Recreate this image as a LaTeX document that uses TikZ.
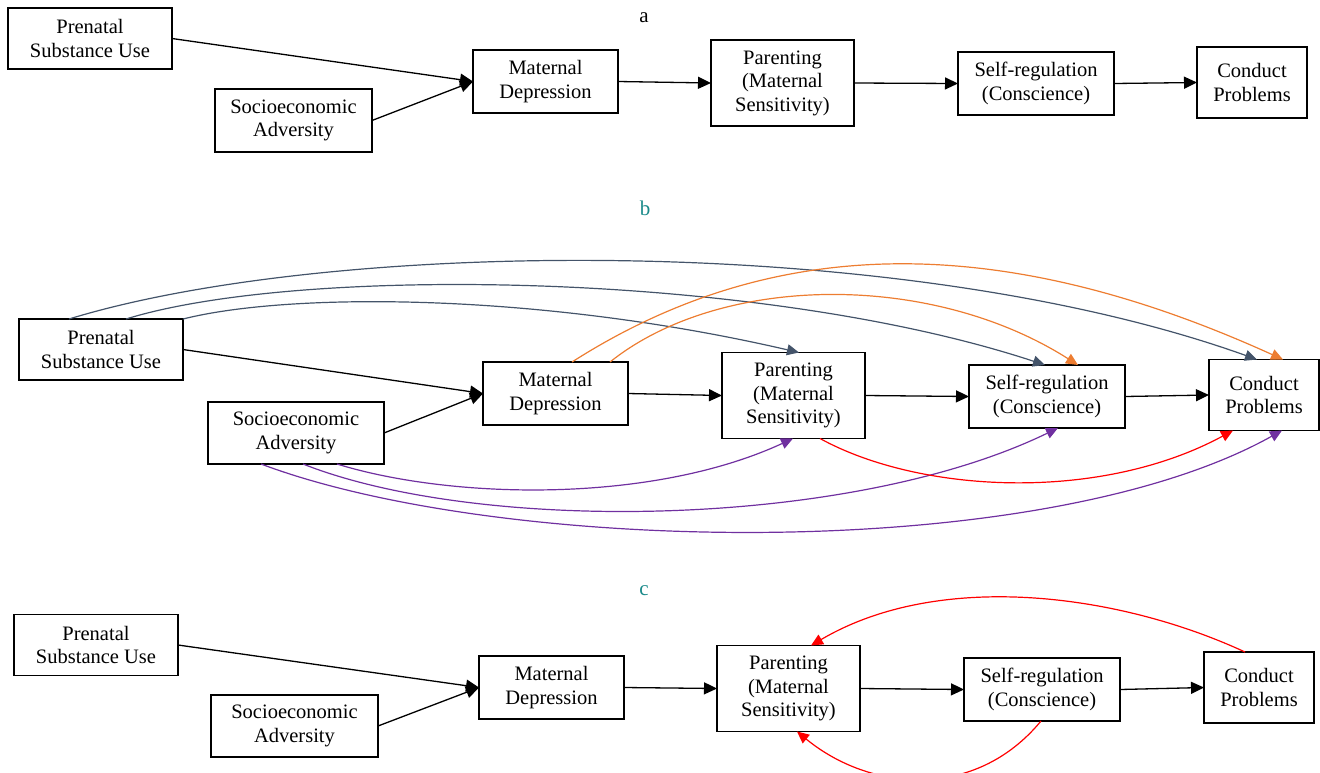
\documentclass[tikz,border=0pt]{standalone}
\usepackage{fontspec}
\setmainfont{Liberation Serif}
\usetikzlibrary{positioning,arrows.meta,calc}
\definecolor{slateblue}{HTML}{44546A}
\definecolor{pathorange}{HTML}{ED7D31}
\definecolor{pathpurple}{HTML}{7030A0}
\definecolor{pathred}{HTML}{FF0000}
\definecolor{panelteal}{HTML}{1A8A8A}

\begin{document}
\begin{tikzpicture}[x=1pt, y=-1pt,
    box/.style={draw, line width=1.8pt, align=center, inner sep=0pt, outer sep=0pt,
                font=\fontsize{20.5}{23.5}\selectfont},
    psbox/.style={box, minimum width=164pt, minimum height=61pt},
    sebox/.style={box, minimum width=160pt, minimum height=63pt},
    mdbox/.style={box, minimum width=145pt, minimum height=63pt},
    parbox/.style={box, minimum width=143pt, minimum height=86pt},
    srbox/.style={box, minimum width=156pt, minimum height=63pt},
    cpbox/.style={box, minimum width=110pt, minimum height=71pt},
    link/.style={line width=1.3pt, -{Triangle[length=13pt,width=12pt]}},
    curved/.style={line width=1.2pt, -{Triangle[length=12pt,width=11pt]}},
    panel/.style={font=\fontsize{21}{25}\selectfont}]
  \useasboundingbox (0,0) rectangle (1320,772);

  % Panel a
  \node[panel] (la) at (644,18) {a};
  \node[psbox] (psa) at (90,38.5) {Prenatal\\Substance Use};
  \node[sebox, minimum width=157pt] (sea) at (293.5,120.5) {Socioeconomic\\Adversity};
  \node[mdbox] (mda) at (545.5,81.5) {Maternal\\Depression};
  \node[parbox] (para) at (782.5,83) {Parenting\\(Maternal\\Sensitivity)};
  \node[srbox] (sra) at (1036,83.5) {Self-regulation\\(Conscience)};
  \node[cpbox] (cpa) at (1252,82.5) {Conduct\\Problems};
  \draw[link] (psa.east) -- (mda.west);
  \draw[link] (sea.east) -- (mda.west);
  \draw[link] (mda.east) -- (para.west);
  \draw[link] (para.east) -- (sra.west);
  \draw[link] (sra.east) -- (cpa.west);

  % Panel b
  \node[panel, text=panelteal] (lb) at (645,208) {b};
  \node[psbox] (psb) at (101,349.5) {Prenatal\\Substance Use};
  \node[sebox, minimum width=176pt, minimum height=62pt] (seb) at (296,433) {Socioeconomic\\Adversity};
  \node[mdbox] (mdb) at (555.5,393.5) {Maternal\\Depression};
  \node[parbox] (parb) at (793.5,395.5) {Parenting\\(Maternal\\Sensitivity)};
  \node[srbox] (srb) at (1047,396.5) {Self-regulation\\(Conscience)};
  \node[cpbox] (cpb) at (1264,395) {Conduct\\Problems};
  \draw[link] (psb.east) -- (mdb.west);
  \draw[link] (seb.east) -- (mdb.west);
  \draw[link] (mdb.east) -- (parb.west);
  \draw[link] (parb.east) -- (srb.west);
  \draw[link] (srb.east) -- (cpb.west);
  % direct paths from prenatal substance use
  \draw[curved, slateblue] ($(psb.north west)+(50,0)$) .. controls +(261,-80) and +(-357,-128) .. ($(cpb.north west)+(48,0)$);
  \draw[curved, slateblue] ($(psb.north west)+(107,0)$) .. controls +(174,-54) and +(-285,-94) .. ($(srb.north west)+(76,0)$);
  \draw[curved, slateblue] (psb.north east) .. controls +(107,-27) and +(-259,-60) .. ($(parb.north west)+(77,0)$);
  % paths from maternal depression
  \draw[curved, pathorange] ($(mdb.north west)+(89,0)$) .. controls +(208,-133) and +(-273,-124) .. ($(cpb.north west)+(74,0)$);
  \draw[curved, pathorange] ($(mdb.north west)+(127,0)$) .. controls +(110,-88) and +(-148,-94) .. ($(srb.north west)+(109,0)$);
  % paths from socioeconomic adversity
  \draw[curved, pathpurple] ($(seb.south west)+(53,0)$) .. controls +(239,90) and +(-242,135) .. ($(cpb.south west)+(73,0)$);
  \draw[curved, pathpurple] ($(seb.south west)+(95,0)$) .. controls +(177,70) and +(-208,101) .. ($(srb.south west)+(89,0)$);
  \draw[curved, pathpurple] ($(seb.south west)+(129,0)$) .. controls +(113,35) and +(-143,66) .. ($(parb.south west)+(71,0)$);
  % parenting to conduct problems
  \draw[curved, pathred] ($(parb.south west)+(98,0)$) .. controls +(100,55) and +(-133,72) .. ($(cpb.south west)+(24,0)$);

  % Panel c
  \node[panel, text=panelteal] (lc) at (644,591) {c};
  \node[psbox] (psc) at (96,645) {Prenatal\\Substance Use};
  \node[sebox, minimum width=167pt, minimum height=62pt] (sec) at (294.5,726) {Socioeconomic\\Adversity};
  \node[mdbox] (mdc) at (551.5,687.5) {Maternal\\Depression};
  \node[parbox] (parc) at (788.5,688.5) {Parenting\\(Maternal\\Sensitivity)};
  \node[srbox] (src) at (1042,689.5) {Self-regulation\\(Conscience)};
  \node[cpbox] (cpc) at (1259,687.5) {Conduct\\Problems};
  \draw[link] (psc.east) -- (mdc.west);
  \draw[link] (sec.east) -- (mdc.west);
  \draw[link] (mdc.east) -- (parc.west);
  \draw[link] (parc.east) -- (src.west);
  \draw[link] (src.east) -- (cpc.west);
  % feedback to parenting
  \draw[curved, pathred] ($(cpc.north west)+(41,0)$) .. controls +(-125,-58) and +(129,-76) .. ($(parc.north west)+(94,0)$);
  \draw[curved, pathred] ($(src.south west)+(77,0)$) .. controls +(-66,80) and +(73,60) .. ($(parc.south west)+(80,0)$);
\end{tikzpicture}
\end{document}
